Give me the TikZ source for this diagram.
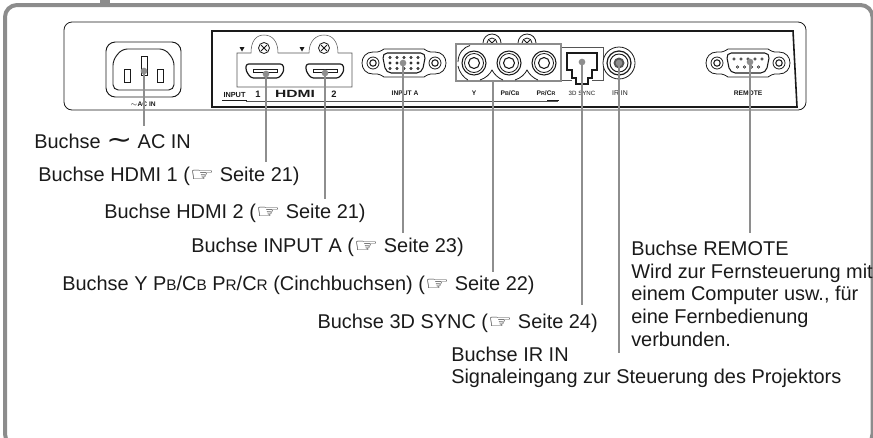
\documentclass[tikz,border=0pt]{standalone}
\usepackage{fontspec}
\setmainfont{Liberation Sans}
\newfontfamily\symbfont{DejaVu Sans}
\usepackage{xcolor}
\usepackage{graphicx}
\usetikzlibrary{positioning}
\definecolor{frameG}{HTML}{8C8C8C}
\definecolor{leadG}{HTML}{8E8E8E}
\definecolor{inkK}{HTML}{1A1A1A}
\definecolor{thinG}{HTML}{555555}
\newcommand{\handref}[1]{({\symbfont\fontsize{14}{17}\selectfont\scalebox{1.45}[1.05]{\char"261E}}~Seite~#1)}
\newcommand{\kleinb}[1]{{\fontsize{11.5}{13}\selectfont #1}}
\tikzset{
  label/.style={font=\fontsize{14.95}{17}\selectfont, text=inkK, inner sep=0pt, anchor=base west},
  panlabel/.style={font=\fontsize{5}{6}\selectfont\bfseries, text=inkK, inner sep=0pt},
  leader/.style={draw=leadG, line width=1.5pt},
  portdot/.style={circle, fill=leadG, inner sep=0pt, minimum size=5pt},
  thin line/.style={draw=inkK, line width=0.45pt},
  housing/.style={draw=thinG, line width=0.4pt},
}
\begin{document}
\begin{tikzpicture}[x=0.75pt, y=-0.75pt]
  \useasboundingbox (0,0) rectangle (873,437);
  \clip (0,0) rectangle (873,437);
  % outer frame with tab
  \draw[frameG, line width=3pt, rounded corners=9pt] (5,5) rectangle (872.5,446);
  \fill[frameG] (100,0) rectangle (110,5);
  % back panel
  \draw[thin line, line width=0.6pt, rounded corners=6pt] (64,22) rectangle (806,110);
  \draw[inkK, line width=1.2pt] (793,31) -- (212,31) -- (212,107) -- (797,107) -- cycle;
  \draw[housing] (246,101) -- (558,101);
  % AC inlet
  \draw[thin line, line width=0.7pt, rounded corners=7pt] (106,42) rectangle (181,97);
  \draw[thin line, line width=0.7pt, rounded corners=4pt] (122,49) -- (165,49) -- (174,60)
     -- (174,90) -- (113,90) -- (113,60) -- cycle;
  \foreach \px/\py/\ph in {124/69/13, 157/69/13, 141/56/19}{
    \draw[thin line, line width=0.7pt] (\px,\py) rectangle ++(6,\ph);
  }
  % HDMI housing
  \draw[housing] (237,53) -- (237,87) -- (352,87) -- (352,53) -- (338,53)
     .. controls (338,41) and (332,35) .. (324,35) .. controls (316,35) and (309,41) .. (309,53)
     -- (278,53) .. controls (278,41) and (272,35) .. (264,35) .. controls (256,35) and (251,41) .. (251,53)
     -- cycle;
  \foreach \cx in {264,324}{
    \draw[thin line, line width=0.6pt] (\cx,48) circle (5.5);
    \draw[thin line, line width=0.6pt] (\cx-3,45) -- (\cx+3,51) (\cx-3,51) -- (\cx+3,45);
    \fill[inkK] (\cx-24.5,47) -- (\cx-19.5,47) -- (\cx-22,51.5) -- cycle;
    \draw[thin line, line width=0.9pt, rounded corners=2pt] (\cx-18,64) -- (\cx+19,64) -- (\cx+20,71)
       -- (\cx+15,78) -- (\cx-13,78) -- (\cx-18,71) -- cycle;
    \draw[thin line, line width=0.6pt] (\cx-11,69.5) rectangle (\cx+13,72.5);
  }
  % D-sub connectors
  \foreach \cx in {404,748}{
    \draw[thin line, line width=0.6pt] ({\cx-20},49) -- ({\cx+20},49)
       .. controls ({\cx+26},53) and ({\cx+28},52) .. ({\cx+31},52)
       .. controls ({\cx+38},52) and ({\cx+42},57) .. ({\cx+42},63)
       .. controls ({\cx+42},69) and ({\cx+38},74) .. ({\cx+31},74)
       .. controls ({\cx+28},74) and ({\cx+26},73) .. ({\cx+20},77)
       -- ({\cx-20},77)
       .. controls ({\cx-26},73) and ({\cx-28},74) .. ({\cx-31},74)
       .. controls ({\cx-38},74) and ({\cx-42},69) .. ({\cx-42},63)
       .. controls ({\cx-42},57) and ({\cx-38},52) .. ({\cx-31},52)
       .. controls ({\cx-28},52) and ({\cx-26},53) .. ({\cx-20},49) -- cycle;
    \draw[thin line, line width=0.8pt, rounded corners=4pt] ({\cx-22},53) -- ({\cx+22},53)
       -- ({\cx+18},73) -- ({\cx-18},73) -- cycle;
    \foreach \sx in {-31,31}{
      \draw[thin line, line width=0.6pt] ({\cx+\sx},63) circle (6);
      \draw[thin line, line width=0.8pt] ({\cx+\sx},63) circle (3.2);
    }
  }
  % pins of INPUT A and REMOTE
  \foreach \ky/\kx/\kn in {57.5/-14/4, 63/-14/4, 68.5/-14/4}{
    \foreach \i in {0,...,\kn}{
      \draw[thin line] ({404+\kx+\i*7},\ky) circle (1.1);
    }
  }
  \foreach \ky/\kx/\kn in {59/-14/4, 67/-10.5/3}{
    \foreach \i in {0,...,\kn}{
      \draw[thin line] ({748+\kx+\i*7},\ky) circle (1.2);
    }
  }
  % RCA group
  \foreach \cx in {492,527}{
    \draw[thin line, line width=0.6pt] (\cx,43) circle (9);
    \draw[thin line, line width=0.6pt] (\cx,43) circle (5);
    \draw[thin line, line width=0.6pt] (\cx-3,40) -- (\cx+3,46) (\cx-3,46) -- (\cx+3,40);
  }
  \draw[frameG, fill=white, line width=1.6pt] (456,44) rectangle (561,81);
  \foreach \cx in {474,509,544}{
    \draw[thin line, line width=0.8pt] (\cx,63) circle (12);
    \draw[thin line, line width=0.6pt] (\cx,63) circle (9.5);
    \draw[thin line, line width=0.8pt] (\cx,63) circle (5.5);
  }
  \draw[thin line, line width=0.6pt] (480,80) .. controls (486,78) and (490,74) .. (492,70)
     .. controls (494,74) and (498,78) .. (503,80)
     (515,80) .. controls (521,78) and (525,74) .. (527,70)
     .. controls (529,74) and (533,78) .. (538,80)
     (458,62) .. controls (458,53) and (464,47) .. (470,45.5)
     (458,66) .. controls (459,72) and (464,78) .. (468,80);
  % 3D SYNC and IR IN
  \draw[housing] (562,47) -- (603,47) (562,80) -- (572,80) (592,80) -- (603,80) -- (603,47);
  \draw[thin line, line width=0.9pt, fill=white] (567,53) -- (597,53) -- (597,70) -- (592,70) -- (592,78)
     -- (588,78) -- (588,84) -- (576,84) -- (576,78) -- (572,78) -- (572,70) -- (567,70) -- cycle;
  \draw[thin line, fill=white, line width=0.6pt] (619,63) circle (16);
  \draw[thin line, line width=0.9pt] (619,63) circle (12);
  \draw[thin line, line width=0.7pt] (619,63) circle (9);
  \fill[thinG] (619,63) circle (5.5);
  % panel captions
  \node[panlabel] (capac) at (143,104.5) {$\sim$AC IN};
  \node[panlabel, font=\fontsize{5.5}{6}\selectfont\bfseries] (capinput) at (234.5,95) {INPUT};
  \draw[inkK, line width=1pt] (222,100.5) -- (247,100.5);
  \node[panlabel, font=\fontsize{7}{8}\selectfont\bfseries] (capone) at (258,94) {1};
  \node[panlabel, font=\fontsize{7}{8}\selectfont\bfseries] (captwo) at (334,94) {2};
  \node[panlabel, font=\fontsize{7.8}{8}\selectfont\bfseries, xscale=1.5, transform shape] (caphdmi) at (295,94) {HDMI};
  \node[panlabel] (capinpa) at (405,93) {INPUT A};
  \node[panlabel] (capy) at (474,93) {Y};
  \node[panlabel] (cappb) at (510,93) {P{\fontsize{4}{5}\selectfont B}/C{\fontsize{4}{5}\selectfont B}};
  \node[panlabel] (cappr) at (546,93) {P{\fontsize{4}{5}\selectfont R}/C{\fontsize{4}{5}\selectfont R}};
  \draw[inkK, line width=1pt] (547,100.5) -- (559,100.5);
  \node[panlabel, font=\fontsize{4.6}{6}\selectfont] (capsync) at (582,93) {3D SYNC};
  \node[panlabel, font=\fontsize{5.2}{6}\selectfont] (capir) at (620,93) {IR IN};
  \node[panlabel] (capremote) at (748,93) {REMOTE};
  % leaders: name, dot x, dot y, free end y
  \foreach \nm/\lx/\ly/\ey in {ac/144/71/126, hdmia/266/74/162, hdmib/325/73/199, inpa/403/63/233,
      sync/582/62/305, irin/619/63/353, remote/750/62/233}{
    \node[portdot] (dot\nm) at (\lx,\ly) {};
    \coordinate (end\nm) at (\lx,\ey);
    \draw[leader] (dot\nm.center) -- (end\nm);
  }
  \coordinate (startrca) at (492.5,81);
  \coordinate (endrca) at (492.5,272);
  \draw[leader] (startrca) -- (endrca);
  % labels
  \node[label] (labac) at (34,148) {Buchse {\symbfont\raisebox{-0.5pt}{\scalebox{1.55}[1.3]{\char"223C}}} AC IN};
  \node[label] (labhdmia) at (38,181) {Buchse HDMI 1 \handref{21}};
  \node[label] (labhdmib) at (104,218) {Buchse HDMI 2 \handref{21}};
  \node[label] (labinpa) at (191,252) {Buchse INPUT A \handref{23}};
  \node[label] (labrca) at (62,290) {Buchse Y P\kleinb{B}/C\kleinb{B} P\kleinb{R}/C\kleinb{R} (Cinchbuchsen) \handref{22}};
  \node[label, anchor=base east] (labsync) at (598,328) {Buchse 3D SYNC \handref{24}};
  \node[label, align=left] (labir) at (451,383) {Buchse IR IN\\[-1.2pt]Signaleingang zur Steuerung des Projektors};
  \node[label, align=left] (labremote) at (631,346) {Buchse REMOTE\\Wird zur Fernsteuerung mit\\einem Computer usw., für\\eine Fernbedienung\\verbunden.};
\end{tikzpicture}
\end{document}
